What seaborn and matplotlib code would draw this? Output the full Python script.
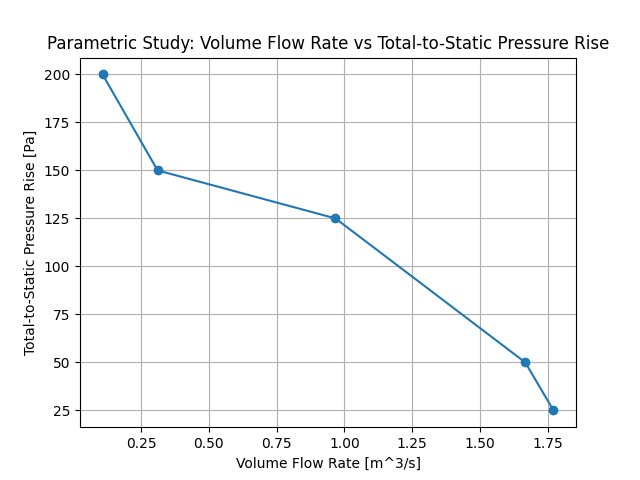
import pandas as pd
import seaborn as sns
import matplotlib
matplotlib.use("Agg")
import matplotlib.pyplot as plt

# values
flow_rate = [0.108, 0.311, 0.967, 1.667, 1.771]
pressure_rise = [200, 150, 125, 50, 25]

df = pd.DataFrame({"flow": flow_rate, "dp": pressure_rise})

fig, ax = plt.subplots(figsize=(6.4, 4.8), dpi=100)
sns.lineplot(
    data=df,
    x="flow",
    y="dp",
    marker="o",
    sort=False,
    color="#1f77b4",
    markeredgecolor="#1f77b4",
    markeredgewidth=1.0,
    markersize=6,
    linewidth=1.5,
    ax=ax,
)
ax.set_title("Parametric Study: Volume Flow Rate vs Total-to-Static Pressure Rise")
ax.set_xlabel("Volume Flow Rate [m^3/s]")
ax.set_ylabel("Total-to-Static Pressure Rise [Pa]")
ax.grid(True)
fig.savefig("out.png")
